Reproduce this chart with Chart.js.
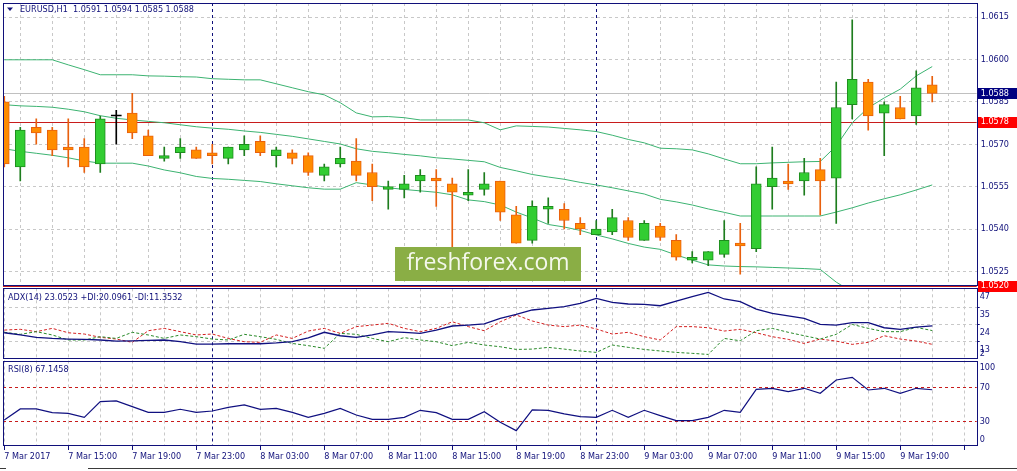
<!DOCTYPE html>
<html>
<head>
<meta charset="utf-8">
<title>EURUSD,H1</title>
<script src="https://cdn.jsdelivr.net/npm/chart.js@4/dist/chart.umd.min.js"></script>
<style>
  html, body { margin: 0; padding: 0; background: #fff; }
  body { position: relative; width: 1017px; height: 471px; overflow: hidden; }
  canvas { position: absolute; left: 0; }
  .tabline { position: absolute; height: 0; border-top: 1px solid #3a3a3a; }
</style>
</head>
<body>
<canvas id="main" width="1017" height="292" style="top:0"></canvas>
<canvas id="adx" width="1017" height="75" style="top:286px"></canvas>
<canvas id="rsi" width="1017" height="113" style="top:358px"></canvas>
<div class="tabline" style="left:0;top:468px;width:6px"></div>
<div class="tabline" style="left:88px;top:468px;width:929px"></div>
<script>
// EURUSD H1, 7 Mar 2017 11:00 .. 9 Mar 2017 21:00 (one entry per bar)
const opens = [1.0585,1.0562,1.0576,1.0575,1.0569,1.0569,1.0563,1.0580,1.0581,1.0573,
  1.0565,1.0567,1.0568,1.0567,1.0565,1.0568,1.0571,1.0566,1.0567,1.0566,
  1.0559,1.0563,1.0564,1.0560,1.0554,1.0554,1.0557,1.0558,1.0556,1.0552,
  1.0554,1.0557,1.0545,1.0536,1.0547,1.0547,1.0542,1.0538,1.0539,1.0543,
  1.0536,1.0541,1.0536,1.0529,1.0529,1.0531,1.0535,1.0533,1.0555,1.0557,
  1.0557,1.0561,1.0558,1.0584,1.0592,1.0581,1.0583,1.0580,1.0591];
const highs = [1.0587,1.0576,1.0579,1.0576,1.0579,1.0572,1.0580,1.0582,1.0588,1.0575,
  1.0569,1.0572,1.0569,1.0570,1.0569,1.0573,1.0573,1.0569,1.0568,1.0567,
  1.0563,1.0569,1.0572,1.0563,1.0557,1.0559,1.0561,1.0561,1.0558,1.0561,
  1.0560,1.0557,1.0548,1.0550,1.0551,1.0549,1.0544,1.0543,1.0547,1.0544,
  1.0543,1.0542,1.0538,1.0532,1.0532,1.0543,1.0542,1.0562,1.0569,1.0563,
  1.0565,1.0565,1.0592,1.0614,1.0593,1.0585,1.0587,1.0596,1.0594];
const lows = [1.0562,1.0557,1.0570,1.0566,1.0562,1.0560,1.0560,1.0570,1.0572,1.0566,
  1.0564,1.0565,1.0565,1.0563,1.0563,1.0566,1.0566,1.0562,1.0563,1.0559,
  1.0557,1.0562,1.0557,1.0550,1.0547,1.0551,1.0553,1.0548,1.0533,1.0550,
  1.0552,1.0543,1.0535,1.0535,1.0542,1.0540,1.0538,1.0538,1.0538,1.0536,
  1.0536,1.0536,1.0529,1.0528,1.0527,1.0530,1.0524,1.0532,1.0547,1.0554,
  1.0552,1.0545,1.0542,1.0579,1.0575,1.0566,1.0579,1.0577,1.0585];
const closes = [1.0563,1.0575,1.0574,1.0568,1.0568,1.0562,1.0579,1.0580,1.0574,1.0566,
  1.0566,1.0569,1.0565,1.0566,1.0569,1.0570,1.0567,1.0568,1.0565,1.0560,
  1.0562,1.0565,1.0559,1.0555,1.0555,1.0556,1.0559,1.0557,1.0553,1.0553,
  1.0556,1.0546,1.0535,1.0548,1.0548,1.0543,1.0540,1.0540,1.0544,1.0537,
  1.0542,1.0537,1.0530,1.0530,1.0532,1.0536,1.0534,1.0556,1.0558,1.0556,
  1.0560,1.0557,1.0583,1.0593,1.0580,1.0584,1.0579,1.0590,1.0588];

// Bollinger bands
const bbUpper = [1.05999,1.05999,1.05999,1.05999,1.05981,1.05964,1.05946,1.05946,1.05946,1.05942,
  1.05941,1.05939,1.05938,1.05932,1.05930,1.05928,1.05928,1.05914,1.05900,1.05886,
  1.05875,1.05847,1.05811,1.05797,1.05798,1.05794,1.05786,1.05786,1.05786,1.05786,
  1.05776,1.05751,1.05765,1.05763,1.05761,1.05756,1.05751,1.05745,1.05732,1.05717,
  1.05705,1.05686,1.05684,1.05680,1.05666,1.05648,1.05631,1.05631,1.05634,1.05636,
  1.05638,1.05639,1.05694,1.05776,1.05829,1.05864,1.05895,1.05942,1.05975];
const bbMiddle = [1.05840,1.05836,1.05834,1.05831,1.05824,1.05815,1.05801,1.05792,1.05786,1.05781,
  1.05776,1.05769,1.05762,1.05757,1.05753,1.05747,1.05742,1.05735,1.05728,1.05719,
  1.05710,1.05701,1.05684,1.05675,1.05670,1.05664,1.05659,1.05652,1.05648,1.05643,
  1.05638,1.05618,1.05606,1.05593,1.05584,1.05576,1.05565,1.05556,1.05546,1.05535,
  1.05524,1.05505,1.05496,1.05485,1.05471,1.05459,1.05446,1.05446,1.05446,1.05446,
  1.05446,1.05446,1.05460,1.05475,1.05492,1.05507,1.05521,1.05538,1.05556];
const bbLower = [1.05684,1.05675,1.05668,1.05661,1.05652,1.05641,1.05633,1.05633,1.05633,1.05623,
  1.05609,1.05599,1.05586,1.05579,1.05576,1.05572,1.05568,1.05560,1.05553,1.05546,
  1.05541,1.05541,1.05564,1.05556,1.05546,1.05540,1.05535,1.05530,1.05521,1.05503,
  1.05497,1.05485,1.05460,1.05439,1.05416,1.05407,1.05395,1.05379,1.05365,1.05349,
  1.05336,1.05328,1.05308,1.05290,1.05273,1.05269,1.05267,1.05266,1.05264,1.05262,
  1.05260,1.05257,1.05212,1.05177,1.05156,1.05149,1.05145,1.05138,1.05135];

// ADX(14)
const adxLine = [18.7,17.3,15.8,15.1,14.7,14.5,14.1,13.4,13.6,13.9,
  14.1,13.0,11.5,11.5,11.7,11.7,11.7,12.2,13.0,15.5,
  19.0,16.8,15.8,17.3,19.4,19.0,18.3,20.4,23.0,23.6,
  24.3,27.9,30.4,33.2,34.2,35.3,37.4,40.6,38.1,37.0,
  36.8,35.9,38.9,41.7,44.4,40.2,38.5,33.8,31.1,29.4,
  27.9,24.0,23.6,25.1,25.1,21.9,20.9,22.3,23.05];
const plusDI = [19.0,17.7,19.4,17.3,14.1,14.1,16.2,15.1,19.0,17.3,
  15.1,17.3,16.2,14.7,14.1,17.7,16.2,14.5,11.9,10.5,
  8.8,18.3,17.7,15.1,13.0,15.6,14.1,13.0,10.5,12.6,
  10.9,9.8,8.1,8.3,9.4,8.3,7.1,6.2,10.9,9.4,
  8.1,7.1,6.2,5.6,4.9,15.1,13.6,20.0,21.5,19.0,
  16.8,14.7,17.7,24.0,21.5,19.4,19.4,22.1,20.1];
const minusDI = [20.4,20.9,19.4,21.5,18.7,17.9,15.8,14.7,12.6,20.0,
  21.5,19.4,17.3,17.9,15.1,13.0,12.6,17.3,15.1,19.8,
  21.5,18.3,22.6,23.6,24.7,21.5,19.4,21.5,25.7,22.6,
  20.0,25.7,30.0,26.2,23.6,22.6,23.6,21.1,17.9,19.0,
  16.2,14.1,22.6,22.6,21.9,19.8,20.9,18.7,16.2,14.5,
  11.9,14.7,13.4,11.3,12.6,16.8,14.7,13.4,11.35];

// RSI(8)
const rsiLine = [31.5,44.5,44.5,40.1,39.3,34.6,53.1,53.9,47.2,40.5,
  40.5,44.1,40.5,42.1,46.4,49.2,44.1,45.2,40.5,34.6,
  39.3,45.2,37.4,32.3,32.3,34.6,42.9,40.1,32.3,32.3,
  41.3,28.8,19.0,43.3,42.9,38.6,35.4,34.6,42.9,34.6,
  42.9,36.6,30.7,30.7,34.6,42.9,40.5,67.6,68.8,64.9,
  68.8,62.9,78.6,81.7,66.8,68.8,62.9,68.8,67.1];

// axes
const timeLabels = ['7 Mar 2017','7 Mar 15:00','7 Mar 19:00','7 Mar 23:00','8 Mar 03:00',
  '8 Mar 07:00','8 Mar 11:00','8 Mar 15:00','8 Mar 19:00','8 Mar 23:00','9 Mar 03:00',
  '9 Mar 07:00','9 Mar 11:00','9 Mar 15:00','9 Mar 19:00'];
const LABEL_EVERY = 4;   // bars between time labels
const GRID_EVERY = 2;    // bars between vertical grid lines
const daySeparators = [13, 37];   // 8 Mar 00:00, 9 Mar 00:00
const priceTicks = [1.0615, 1.0600, 1.0585, 1.0570, 1.0555, 1.0540, 1.0525];
const adxGrid = [35, 24, 13];
const adxTicks = [47, 35, 24, 13, 2];
const rsiLevels = [70, 30];
const rsiTicks = [100, 70, 30, 0];
const bidPrice = 1.0588;
const redLevels = [1.0578, 1.0520];

const X_MIN = -0.08, X_MAX = 60.78;
const NAVY = '#10107a';
const GRID = '#c8c8c8';
const AXIS_W = 40.3;
const FAMILY = '"DejaVu Sans Condensed", "DejaVu Sans", sans-serif';
const FONT = '9px ' + FAMILY;

const gridBars = [];
for (let b = 0; b <= X_MAX; b += GRID_EVERY) gridBars.push(b);

const kind = i => closes[i] > opens[i] ? 'bull' : (closes[i] < opens[i] ? 'bear' : 'doji');
const BODY = { bull: '#32cd32', bear: '#ff8c00', doji: '#000000' };
const EDGE = { bull: '#1e8c1e', bear: '#e8600e', doji: '#000000' };
const WICK = { bull: '#1e7d1e', bear: '#e8600e', doji: '#000000' };

// keep the plot area exactly where layout.padding puts it
function noScalePadding(s) {
  s.paddingTop = 0; s.paddingBottom = 0; s.paddingLeft = 0; s.paddingRight = 0;
}

function xAxis(withLabels) {
  return {
    type: 'linear', min: X_MIN, max: X_MAX, offset: false,
    afterBuildTicks: s => { s.ticks = gridBars.map(v => ({ value: v })); },
    afterFit: s => { s.height = withLabels ? 25 : 0; noScalePadding(s); },
    grid: {
      color: GRID, drawTicks: withLabels, tickLength: 4,
      tickColor: c => (c.tick && c.tick.value % LABEL_EVERY === 0) ? NAVY : 'rgba(0,0,0,0)'
    },
    border: { display: false, dash: [3, 3] },
    ticks: {
      display: withLabels, autoSkip: false, maxRotation: 0, align: 'start', padding: 1,
      color: NAVY, font: { family: FAMILY, size: 9 },
      callback: v => v % LABEL_EVERY === 0 ? (timeLabels[v / LABEL_EVERY] || '') : ''
    }
  };
}

function hLine(ctx, a, y, color, dash) {
  const py = Math.round(y) + 0.5;
  ctx.save();
  ctx.strokeStyle = color; ctx.lineWidth = 1; ctx.setLineDash(dash || []);
  ctx.beginPath(); ctx.moveTo(a.left, py); ctx.lineTo(a.right, py); ctx.stroke();
  ctx.restore();
}

function separators(chart) {
  const { ctx, chartArea: a, scales: { x } } = chart;
  daySeparators.forEach(b => {
    const px = Math.round(x.getPixelForValue(b)) + 0.5;
    ctx.save();
    ctx.strokeStyle = NAVY; ctx.lineWidth = 1; ctx.setLineDash([3, 3]);
    ctx.beginPath(); ctx.moveTo(px, a.top); ctx.lineTo(px, a.bottom); ctx.stroke();
    ctx.restore();
  });
}

function frame(chart) {
  const { ctx, chartArea: a } = chart;
  ctx.save();
  ctx.strokeStyle = NAVY; ctx.lineWidth = 1;
  ctx.strokeRect(Math.round(a.left) + 0.5, Math.round(a.top) + 0.5,
    Math.round(a.right) - Math.round(a.left), Math.round(a.bottom) - Math.round(a.top) - 1);
  ctx.restore();
}

function caption(ctx, text, x, y) {
  ctx.save();
  ctx.font = FONT; ctx.fillStyle = NAVY; ctx.textBaseline = 'middle'; ctx.textAlign = 'left';
  ctx.fillText(text, x, y);
  ctx.restore();
}

function sideLabels(chart, values, shift, topPad, botPad) {
  const { ctx, chartArea: a, scales: { y } } = chart;
  ctx.save();
  ctx.font = FONT; ctx.fillStyle = NAVY; ctx.textBaseline = 'middle'; ctx.textAlign = 'left';
  values.forEach(v => {
    let py = y.getPixelForValue(v) + shift;
    py = Math.max(a.top + topPad, Math.min(a.bottom - botPad, py));
    ctx.fillText(String(v), a.right + 3, py);
  });
  ctx.restore();
}

function priceBox(chart, price, bg) {
  const { ctx, chartArea: a, scales: { y } } = chart;
  const py = y.getPixelForValue(price);
  ctx.save();
  ctx.fillStyle = bg;
  ctx.fillRect(Math.round(a.right) + 1, Math.round(py) - 5, 39, 11);
  ctx.font = FONT; ctx.fillStyle = '#ffffff'; ctx.textBaseline = 'middle';
  ctx.fillText(price.toFixed(4), a.right + 4, py + 0.5);
  ctx.restore();
}

const common = {
  responsive: false, animation: false, events: [],
  plugins: { legend: { display: false }, tooltip: { enabled: false } },
  elements: { point: { radius: 0 }, line: { tension: 0 } }
};

const mainDecor = {
  id: 'mainDecor',
  beforeDatasetsDraw(chart) {
    const { ctx, chartArea: a, scales: { y } } = chart;
    separators(chart);
    hLine(ctx, a, y.getPixelForValue(bidPrice), '#c0c0c0');
    redLevels.forEach(p => hLine(ctx, a, y.getPixelForValue(p), '#c81c1c'));
  },
  afterDraw(chart) {
    const { ctx, chartArea: a } = chart;
    frame(chart);
    // symbol header
    ctx.save();
    ctx.fillStyle = NAVY;
    ctx.beginPath(); ctx.moveTo(7, 7.5); ctx.lineTo(13, 7.5); ctx.lineTo(10, 11); ctx.closePath(); ctx.fill();
    ctx.restore();
    caption(ctx, 'EURUSD,H1  1.0591 1.0594 1.0585 1.0588', 20, a.top + 6.5);
    // watermark
    ctx.save();
    ctx.fillStyle = '#8aae45';
    ctx.fillRect(395, 247, 186, 34);
    ctx.fillStyle = '#f4f8ec';
    ctx.font = '23px "Open Sans", "Noto Sans", sans-serif';
    ctx.textAlign = 'center'; ctx.textBaseline = 'middle';
    ctx.fillText('freshforex.com', 488, 263);
    ctx.restore();
    // price labels
    priceBox(chart, bidPrice, '#000080');
    redLevels.forEach(p => priceBox(chart, p, '#ff0000'));
  }
};

new Chart(document.getElementById('main'), {
  type: 'bar',
  data: {
    datasets: [
      {
        label: 'body', order: 0, grouped: false, barThickness: 10, minBarLength: 1, borderSkipped: false,
        data: opens.map((o, i) => ({ x: i, y: [o, closes[i]] })),
        backgroundColor: c => BODY[kind(c.dataIndex)],
        borderColor: c => EDGE[kind(c.dataIndex)],
        borderWidth: c => kind(c.dataIndex) === 'doji' ? 0 : 1
      },
      {
        label: 'wick', order: 1, grouped: false, barThickness: 1, borderWidth: 0,
        data: lows.map((l, i) => ({ x: i, y: [l, highs[i]] })),
        backgroundColor: c => WICK[kind(c.dataIndex)]
      },
      { type: 'line', label: 'upper', order: 2, borderColor: '#3cb371', borderWidth: 1,
        data: bbUpper.map((v, i) => ({ x: i, y: v })) },
      { type: 'line', label: 'middle', order: 2, borderColor: '#3cb371', borderWidth: 1,
        data: bbMiddle.map((v, i) => ({ x: i, y: v })) },
      { type: 'line', label: 'lower', order: 2, borderColor: '#3cb371', borderWidth: 1,
        data: bbLower.map((v, i) => ({ x: i, y: v })) }
    ]
  },
  options: {
    ...common,
    layout: { padding: { left: 3, top: 3, right: 0, bottom: 6.5 } },
    scales: {
      x: xAxis(false),
      y: {
        position: 'right', min: 1.0520, max: 1.0620,
        afterBuildTicks: s => { s.ticks = priceTicks.map(v => ({ value: v })); },
        afterFit: s => { s.width = AXIS_W; noScalePadding(s); },
        grid: { color: GRID, drawTicks: false },
        border: { display: false, dash: [3, 3] },
        ticks: { color: NAVY, font: { family: FAMILY, size: 9 }, padding: 4, callback: v => v.toFixed(4) }
      }
    }
  },
  plugins: [mainDecor]
});

const adxDecor = {
  id: 'adxDecor',
  beforeDatasetsDraw(chart) { separators(chart); },
  afterDraw(chart) {
    const { ctx, chartArea: a } = chart;
    frame(chart);
    caption(ctx, 'ADX(14) 23.0523 +DI:20.0961 -DI:11.3532', a.left + 5, a.top + 9);
    sideLabels(chart, adxTicks, 8, 7.5, 5.5);
  }
};

new Chart(document.getElementById('adx'), {
  type: 'line',
  data: {
    datasets: [
      { label: 'ADX', borderColor: '#101080', borderWidth: 1.3, data: adxLine.map((v, i) => ({ x: i, y: v })) },
      { label: '+DI', borderColor: '#2a8a2a', borderWidth: 1, borderDash: [3, 2], data: plusDI.map((v, i) => ({ x: i, y: v })) },
      { label: '-DI', borderColor: '#d42020', borderWidth: 1, borderDash: [3, 2], data: minusDI.map((v, i) => ({ x: i, y: v })) }
    ]
  },
  options: {
    ...common,
    layout: { padding: { left: 3, top: 2.3, right: 0, bottom: 2 } },
    scales: {
      x: xAxis(false),
      y: {
        position: 'right', min: 2, max: 47,
        afterBuildTicks: s => { s.ticks = adxGrid.map(v => ({ value: v })); },
        afterFit: s => { s.width = AXIS_W; noScalePadding(s); },
        grid: { color: GRID, drawTicks: true, tickLength: 3, tickColor: NAVY },
        border: { display: false, dash: [3, 3] },
        ticks: { display: false }
      }
    }
  },
  plugins: [adxDecor]
});

const rsiDecor = {
  id: 'rsiDecor',
  beforeDatasetsDraw(chart) {
    const { ctx, chartArea: a, scales: { y } } = chart;
    separators(chart);
    rsiLevels.forEach(v => hLine(ctx, a, y.getPixelForValue(v), '#c81c1c', [3, 3]));
  },
  afterDraw(chart) {
    const { ctx, chartArea: a } = chart;
    frame(chart);
    caption(ctx, 'RSI(8) 67.1458', a.left + 5, a.top + 9.5);
    sideLabels(chart, rsiTicks, 0, 7.5, 6.5);
  }
};

new Chart(document.getElementById('rsi'), {
  type: 'line',
  data: {
    datasets: [
      { label: 'RSI', borderColor: '#101080', borderWidth: 1.2, data: rsiLine.map((v, i) => ({ x: i, y: v })) }
    ]
  },
  options: {
    ...common,
    layout: { padding: { left: 3, top: 2.5, right: 0, bottom: 0 } },
    scales: {
      x: xAxis(true),
      y: {
        position: 'right', min: 0.9, max: 101.5,
        afterFit: s => { s.width = AXIS_W; noScalePadding(s); },
        grid: { display: false },
        border: { display: false },
        ticks: { display: false }
      }
    }
  },
  plugins: [rsiDecor]
});
</script>
</body>
</html>
